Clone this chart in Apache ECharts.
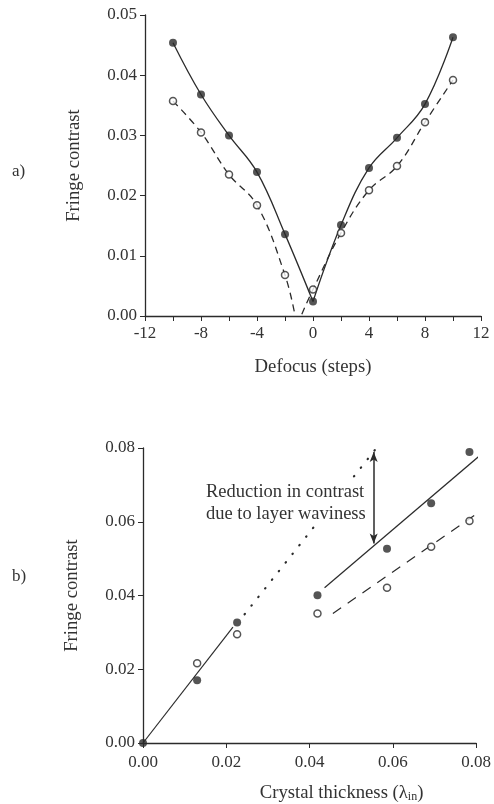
<!DOCTYPE html>
<html>
<head>
<meta charset="utf-8">
<script src="https://cdn.jsdelivr.net/npm/echarts@6/dist/echarts.min.js"></script>
<style>
  html, body { margin: 0; padding: 0; background: #fff; }
  #main { width: 494px; height: 804px; }
</style>
</head>
<body>
<div id="main"></div>
<script>
// a) fringe contrast vs defocus
var defocus = [-10, -8, -6, -4, -2, 0, 2, 4, 6, 8, 10];
var filledA = [0.0454, 0.0368, 0.0300, 0.0239, 0.0136, 0.0024, 0.0151, 0.0246, 0.0296, 0.0352, 0.0463];
var openA = [0.0357, 0.0305, 0.0235, 0.0184, 0.0068, 0.0044, 0.0138, 0.0209, 0.0249, 0.0322, 0.0392];
// where the dashed curve meets the axis (it breaks there)
var dashGapA = [[-1.3, 0.0003], [-0.8, 0.0003]];

// b) fringe contrast vs crystal thickness
var thickB = [0.0130, 0.0226, 0.0419, 0.0586, 0.0692, 0.0784];
var filledB = [0.0170, 0.0327, 0.0401, 0.0527, 0.0650, 0.0789];
var openB = [0.0216, 0.0295, 0.0351, 0.0421, 0.0532, 0.0602];
var originB = [[0, 0]];
var fitThin = [[0, 0], [0.0216, 0.0314]];
var fitDotted = [[0.0244, 0.0349], [0.0572, 0.0816]];
var fitThick = [[0.0436, 0.0421], [0.0824, 0.0794]];
var fitThickOpen = [[0.0456, 0.0351], [0.0840, 0.0652]];
var arrowX = 0.0554, arrowTop = 0.0789, arrowBottom = 0.0541;

var ink = '#2b2b2b';
var font = 'Liberation Serif';

var pairs = function (xs, ys) {
  return xs.map(function (x, i) { return [x, ys[i]]; });
};

// curves are drawn as two branches, meeting in a sharp V near zero defocus
var filledLeft = pairs(defocus.slice(0, 6), filledA.slice(0, 6));
var filledRight = pairs(defocus.slice(5), filledA.slice(5));
var openLeft = pairs(defocus.slice(0, 5), openA.slice(0, 5)).concat([dashGapA[0]]);
var openRight = [dashGapA[1]].concat(pairs(defocus.slice(5), openA.slice(5)));

var axisCommon = {
  axisLine: { show: true, onZero: false, lineStyle: { color: ink, width: 1.3 } },
  axisTick: { show: true, inside: false, length: 5, lineStyle: { color: ink } },
  splitLine: { show: false },
  axisLabel: { color: '#333', fontFamily: font, fontSize: 17 },
  nameTextStyle: { color: '#333', fontFamily: font, fontSize: 18.7 }
};

var curve = function (data, dash) {
  return {
    type: 'line', xAxisIndex: 0, yAxisIndex: 0, data: data, smooth: 0.4,
    showSymbol: false, lineStyle: { color: ink, width: 1.3, type: dash || 'solid' }
  };
};
var fit = function (data, style) {
  return {
    type: 'line', xAxisIndex: 1, yAxisIndex: 1, data: data, clip: false,
    showSymbol: false, lineStyle: Object.assign({ color: ink, width: 1.2 }, style || {})
  };
};

var myChart = echarts.init(document.getElementById('main'));
var option = {
  backgroundColor: '#fff',
  animation: false,
  grid: [
    { left: 145, top: 15, width: 336, height: 301 },
    { left: 143, top: 448, width: 334, height: 300 }
  ],
  xAxis: [
    Object.assign({}, axisCommon, {
      gridIndex: 0, type: 'value', min: -12, max: 12, interval: 2,
      name: 'Defocus (steps)', nameLocation: 'middle', nameGap: 42,
      axisLabel: Object.assign({}, axisCommon.axisLabel, {
        margin: 9,
        formatter: function (v) { return v % 4 === 0 ? String(v) : ''; }
      })
    }),
    Object.assign({}, axisCommon, {
      gridIndex: 1, type: 'value', min: 0, max: 0.08, interval: 0.02,
      name: 'Crystal thickness (λ{sub|in})', nameLocation: 'middle', nameGap: 40,
      nameTextStyle: Object.assign({}, axisCommon.nameTextStyle, {
        padding: [0, 0, 0, 64],
        rich: { sub: { fontFamily: font, fontSize: 12, color: '#333', verticalAlign: 'bottom', padding: [8, 0, 0, 0] } }
      }),
      axisLabel: Object.assign({}, axisCommon.axisLabel, {
        margin: 11,
        formatter: function (v) { return v.toFixed(2); }
      })
    })
  ],
  yAxis: [
    Object.assign({}, axisCommon, {
      gridIndex: 0, type: 'value', min: 0, max: 0.05, interval: 0.01,
      name: 'Fringe contrast', nameLocation: 'middle', nameGap: 61, nameRotate: 90,
      axisLabel: Object.assign({}, axisCommon.axisLabel, {
        margin: 8,
        formatter: function (v) { return v.toFixed(2); }
      })
    }),
    Object.assign({}, axisCommon, {
      gridIndex: 1, type: 'value', min: 0, max: 0.08, interval: 0.02,
      name: 'Fringe contrast', nameLocation: 'middle', nameGap: 61, nameRotate: 90,
      axisLabel: Object.assign({}, axisCommon.axisLabel, {
        margin: 8,
        formatter: function (v) { return v.toFixed(2); }
      })
    })
  ],
  graphic: [
    { type: 'text', left: 12, top: 163, style: { text: 'a)', fill: '#333', font: '17px "Liberation Serif"' } },
    { type: 'text', left: 12, top: 568, style: { text: 'b)', fill: '#333', font: '17px "Liberation Serif"' } },
    {
      type: 'text', left: 204, top: 481, z: 100,
      style: {
        text: 'Reduction in contrast\ndue to layer waviness',
        fill: '#333', font: '18.5px "Liberation Serif"', lineHeight: 22,
        backgroundColor: '#fff', padding: [0, 2, 0, 2]
      }
    }
  ],
  series: [
    // a) curves
    curve(filledLeft),
    curve(filledRight),
    curve(openLeft, [7, 5]),
    curve(openRight, [7, 5]),
    // a) points
    {
      type: 'scatter', xAxisIndex: 0, yAxisIndex: 0,
      data: pairs(defocus, filledA), symbol: 'circle', symbolSize: 8,
      itemStyle: { color: ink }, z: 5
    },
    {
      type: 'scatter', xAxisIndex: 0, yAxisIndex: 0,
      data: pairs(defocus, openA), symbol: 'circle', symbolSize: 7,
      itemStyle: { color: '#fff', borderColor: ink, borderWidth: 1.5 }, z: 5
    },
    // b) fit lines
    fit(fitThin),
    fit(fitDotted, { width: 2.2, type: [0.5, 10.5], cap: 'round' }),
    fit(fitThick),
    fit(fitThickOpen, { type: [10, 8] }),
    // b) arrow
    {
      type: 'line', xAxisIndex: 1, yAxisIndex: 1, data: [],
      markLine: {
        silent: true, symbol: ['arrow', 'arrow'], symbolSize: [6, 10],
        label: { show: false },
        lineStyle: { color: ink, width: 1.5, type: 'solid' },
        data: [[{ coord: [arrowX, arrowTop] }, { coord: [arrowX, arrowBottom] }]]
      }
    },
    // b) points
    {
      type: 'scatter', xAxisIndex: 1, yAxisIndex: 1,
      data: pairs(thickB, filledB).concat(originB), symbol: 'circle', symbolSize: 8,
      itemStyle: { color: ink }, z: 5
    },
    {
      type: 'scatter', xAxisIndex: 1, yAxisIndex: 1,
      data: pairs(thickB, openB), symbol: 'circle', symbolSize: 7,
      itemStyle: { color: '#fff', borderColor: ink, borderWidth: 1.5 }, z: 5
    }
  ]
};
myChart.setOption(option);
</script>
</body>
</html>
